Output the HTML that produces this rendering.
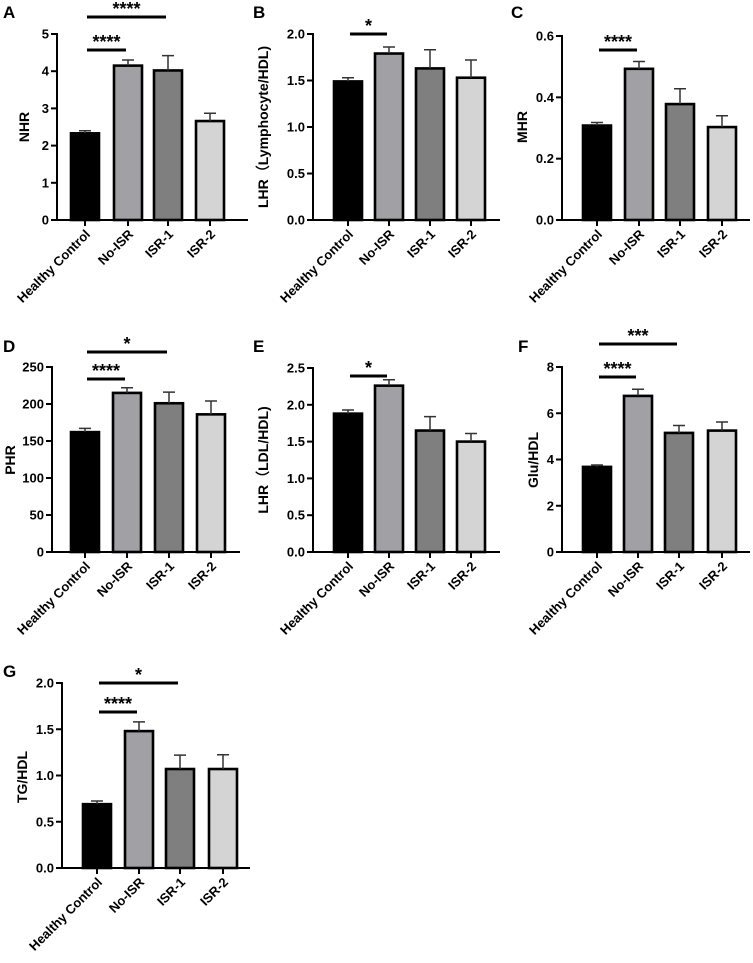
<!DOCTYPE html>
<html><head><meta charset="utf-8"><style>
body{margin:0;background:#fff}
svg{display:block;font-family:"Liberation Sans",Arial,sans-serif;font-weight:bold}
</style></head><body>
<svg id="fig" width="753" height="963" viewBox="0 0 753 963" xmlns="http://www.w3.org/2000/svg"></svg>
<script>
const categories = ["Healthy Control","No-ISR","ISR-1","ISR-2"];
const fills = ["#000000","#a1a1a5","#7f7f7f","#d4d4d4"];
// values and error-bar tops (mean + SEM)
const valsA = [2.33,4.15,4.02,2.66];   const errA = [2.40,4.30,4.42,2.87];
const valsB = [1.49,1.79,1.63,1.53];   const errB = [1.53,1.86,1.83,1.72];
const valsC = [0.308,0.493,0.378,0.303]; const errC = [0.318,0.517,0.428,0.340];
const valsD = [162,215,201,186];       const errD = [167,222,216,204];
const valsE = [1.88,2.26,1.65,1.50];   const errE = [1.93,2.34,1.84,1.61];
const valsF = [3.68,6.75,5.15,5.25];   const errF = [3.76,7.04,5.47,5.62];
const valsG = [0.69,1.48,1.07,1.07];   const errG = [0.725,1.58,1.22,1.225];
const ticksA = [0,1,2,3,4,5];               const tickLblA = ["0","1","2","3","4","5"];
const ticksB = [0,0.5,1,1.5,2];             const tickLblB = ["0.0","0.5","1.0","1.5","2.0"];
const ticksC = [0,0.2,0.4,0.6];             const tickLblC = ["0.0","0.2","0.4","0.6"];
const ticksD = [0,50,100,150,200,250];      const tickLblD = ["0","50","100","150","200","250"];
const ticksE = [0,0.5,1,1.5,2,2.5];         const tickLblE = ["0.0","0.5","1.0","1.5","2.0","2.5"];
const ticksF = [0,2,4,6,8];                 const tickLblF = ["0","2","4","6","8"];
const ticksG = [0,0.5,1,1.5,2];             const tickLblG = ["0.0","0.5","1.0","1.5","2.0"];
// significance: [toIndex, label]
const sigA = [[1,"****"],[2,"****"]];
const sigB = [[1,"*"]];
const sigC = [[1,"****"]];
const sigD = [[1,"****"],[2,"*"]];
const sigE = [[1,"*"]];
const sigF = [[1,"****"],[2,"***"]];
const sigG = [[1,"****"],[2,"*"]];

const panels = [
 {id:"a",letter:"A",lx:3,ly:18,ax:57,top:34,zero:220,right:248,cx:[85,128,168,210],max:5,vals:valsA,err:errA,ticks:ticksA,tl:tickLblA,title:"NHR",tx:24,ty:127,sig:sigA,sigY:[50,17]},
 {id:"b",letter:"B",lx:253,ly:18,ax:313,top:34,zero:220,right:500,cx:[348,389,430,471],max:2,vals:valsB,err:errB,ticks:ticksB,tl:tickLblB,title:"LHR（Lymphocyte/HDL)",tx:263,ty:127,sig:sigB,sigY:[34]},
 {id:"c",letter:"C",lx:511,ly:18,ax:562,top:36,zero:220,right:750,cx:[597,639,680,722],max:0.6,vals:valsC,err:errC,ticks:ticksC,tl:tickLblC,title:"MHR",tx:522,ty:127,sig:sigC,sigY:[50]},
 {id:"d",letter:"D",lx:3,ly:352,ax:52,top:367,zero:552,right:240,cx:[85,127,169,211],max:250,vals:valsD,err:errD,ticks:ticksD,tl:tickLblD,title:"PHR",tx:10,ty:460,sig:sigD,sigY:[379,352]},
 {id:"e",letter:"E",lx:253,ly:352,ax:313,top:368,zero:552,right:500,cx:[348,389,430,471],max:2.5,vals:valsE,err:errE,ticks:ticksE,tl:tickLblE,title:"LHR（LDL/HDL)",tx:263,ty:460,sig:sigE,sigY:[376]},
 {id:"f",letter:"F",lx:518,ly:352,ax:562,top:367,zero:552,right:750,cx:[597,638,679,722],max:8,vals:valsF,err:errF,ticks:ticksF,tl:tickLblF,title:"Glu/HDL",tx:533,ty:460,sig:sigF,sigY:[377,344]},
 {id:"g",letter:"G",lx:3,ly:677,ax:62,top:683,zero:868,right:250,cx:[97,139,180,223],max:2,vals:valsG,err:errG,ticks:ticksG,tl:tickLblG,title:"TG/HDL",tx:22,ty:777,sig:sigG,sigY:[712,683]}
];
const NS="http://www.w3.org/2000/svg";
const svg=document.getElementById("fig");
function mk(tag,attrs,parent,text){const e=document.createElementNS(NS,tag);for(const k in attrs)e.setAttribute(k,attrs[k]);if(text!==undefined)e.textContent=text;parent.appendChild(e);return e;}
panels.forEach(p=>{
 const g=mk("g",{},svg);
 
 
 const y=v=>p.zero-(v/p.max)*(p.zero-p.top);
 const L=mk("text",{x:p.lx,y:p.ly,"font-size":17},g,p.letter);
 
 
 p.vals.forEach((v,i)=>{
  const bw=28,x=p.cx[i]-bw/2;
  const r=mk("rect",{x:x,y:y(v),width:bw,height:p.zero-y(v),fill:fills[i],stroke:"#000","stroke-width":2.6},g);
  
  
  const e=mk("path",{d:`M${p.cx[i]} ${y(v)}V${y(p.err[i])}M${p.cx[i]-6} ${y(p.err[i])}H${p.cx[i]+6}`,stroke:"#333","stroke-width":1.5,fill:"none"},g);
  
  
  const tk=mk("line",{x1:p.cx[i],x2:p.cx[i],y1:p.zero,y2:p.zero+6,stroke:"#000","stroke-width":2},g);
  
  
  const xl=mk("text",{x:0,y:0,"font-size":13,"text-anchor":"end",transform:`translate(${p.cx[i]+6},${p.zero+15}) rotate(-45)`},g,categories[i]);
  
  
 });
 const ax=mk("path",{d:`M${p.ax} ${p.top-1}V${p.zero}H${p.right}`,stroke:"#000","stroke-width":2,fill:"none"},g);
 
 
 p.ticks.forEach((t,i)=>{
  const tl=mk("line",{x1:p.ax-6,x2:p.ax,y1:y(t),y2:y(t),stroke:"#000","stroke-width":2},g);
  
  
  const tt=mk("text",{x:p.ax-8,y:y(t)+4.5,"font-size":13,"text-anchor":"end"},g,p.tl[i]);
  
  
 });
 const yt=mk("text",{x:0,y:0,"font-size":14,"text-anchor":"middle",transform:`translate(${p.tx+5},${p.ty}) rotate(-90)`},g,p.title);
 
 
 p.sig.forEach((s,k)=>{
  const sy=p.sigY[k],x1=p.cx[0]+2,x2=p.cx[s[0]]-2;
  const ln=mk("line",{x1:x1,x2:x2,y1:sy,y2:sy,stroke:"#000","stroke-width":3},g);
  
  
  const st=mk("text",{x:(x1+x2)/2,y:sy-2,"font-size":18,"text-anchor":"middle"},g,s[1]);
  
  
 });
});
</script>
</body></html>
